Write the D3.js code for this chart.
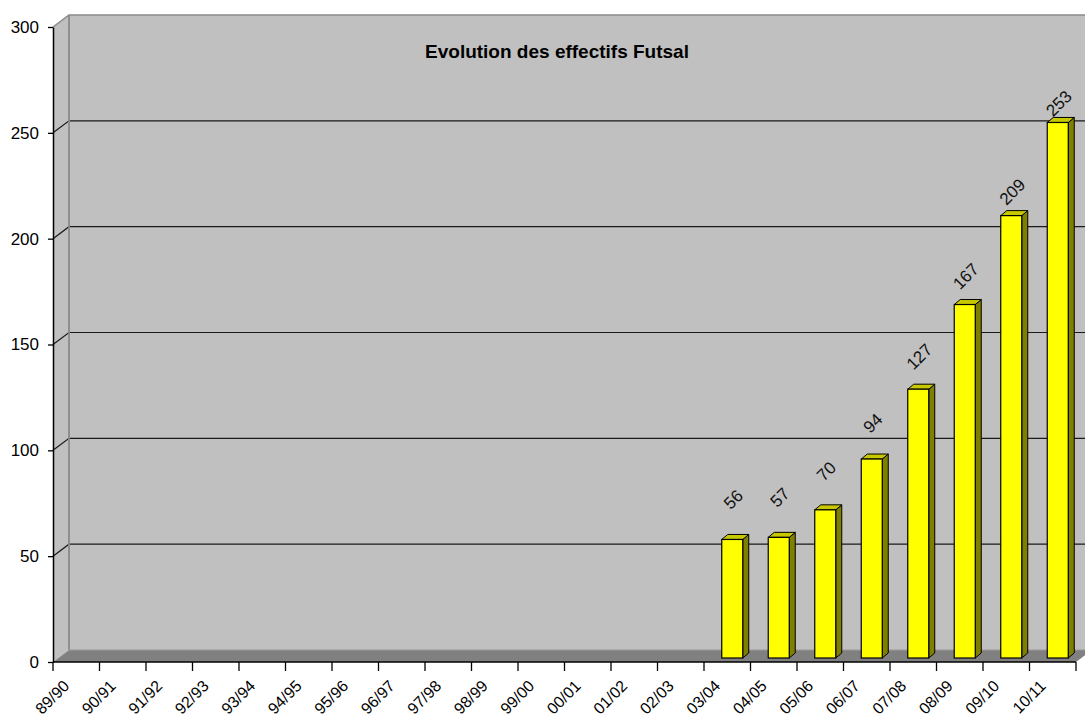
<!DOCTYPE html>
<html><head><meta charset="utf-8">
<script src="https://cdn.jsdelivr.net/npm/d3@7"></script>
<style>
body{margin:0;background:#fff;}
svg{display:block;font-family:"Liberation Sans",Arial,sans-serif;}
</style></head>
<body>
<svg id="chart" width="1085" height="722"></svg>
<script>
const title = "Evolution des effectifs Futsal";
const categories = ["89/90","90/91","91/92","92/93","93/94","94/95","95/96","96/97","97/98","98/99","99/00","00/01","01/02","02/03","03/04","04/05","05/06","06/07","07/08","08/09","09/10","10/11"];
const values = [null,null,null,null,null,null,null,null,null,null,null,null,null,null,56,57,70,94,127,167,209,253];
const yTicks = [0,50,100,150,200,250,300];

const W = 1085, H = 722;
const svg = d3.select("#chart");
const x = d3.scaleBand().domain(categories).range([53, 1076]);
const y = d3.scaleLinear().domain([0, 300]).range([662, 27]);
const DX = 16, DY = -12;          // depth of the 3D box
const bdx = 5, bdy = -4;          // bar position within depth
const sdx = 6, sdy = -5;          // bar thickness
const barW = 21;

const x0 = x.range()[0], x1 = x.range()[1];
const yTop = y(300), yBot = y(0);

// back wall
svg.append("rect").attr("x", x0 + DX).attr("y", yTop + DY)
  .attr("width", W - (x0 + DX) + 5).attr("height", yBot - yTop)
  .attr("fill", "#c0c0c0");
// side wall
svg.append("path")
  .attr("d", `M${x0},${yBot}L${x0},${yTop}L${x0+DX},${yTop+DY}L${x0+DX},${yBot+DY}Z`)
  .attr("fill", "#c0c0c0");

// gridlines
const gridVals = yTicks.filter(v => v > 0 && v < 300);
svg.append("g").selectAll("path").data(gridVals).join("path")
  .attr("d", v => `M${x0},${y(v)}L${x0+DX},${y(v)+DY}L${W+5},${y(v)+DY}`)
  .attr("fill", "none").attr("stroke", "#1a1a1a").attr("stroke-width", 1.2);

// wall borders
svg.append("path")
  .attr("d", `M${x0},${yTop}L${x0+DX},${yTop+DY}L${W+5},${yTop+DY}`)
  .attr("fill", "none").attr("stroke", "#8a8a8a").attr("stroke-width", 1.5);
svg.append("line").attr("x1", x0 + DX).attr("x2", x0 + DX)
  .attr("y1", yTop + DY).attr("y2", yBot + DY)
  .attr("stroke", "#8a8a8a").attr("stroke-width", 1.8);

// floor
svg.append("path")
  .attr("d", `M${x0},${yBot}L${x1},${yBot}L${x1+DX},${yBot+DY}L${x0+DX},${yBot+DY}Z`)
  .attr("fill", "#808080");
svg.append("line").attr("x1", x0 + DX).attr("x2", W + 5)
  .attr("y1", yBot + DY).attr("y2", yBot + DY)
  .attr("stroke", "#9a9a9a").attr("stroke-width", 1);

// bars
const data = categories.map((c, i) => ({c, v: values[i]})).filter(d => d.v != null);
const bars = svg.append("g");
data.forEach(d => {
  const xl = x(d.c) + x.bandwidth() / 2 - barW / 2 + bdx;
  const xr = xl + barW;
  const yb = y(0) + bdy;
  const yt = y(d.v) + bdy;
  // side
  bars.append("path")
    .attr("d", `M${xr},${yb}L${xr},${yt}L${xr+sdx},${yt+sdy}L${xr+sdx},${yb+sdy}Z`)
    .attr("fill", "#808000").attr("stroke", "#000").attr("stroke-width", 1).attr("stroke-linejoin", "round");
  // top
  bars.append("path")
    .attr("d", `M${xl},${yt}L${xr},${yt}L${xr+sdx},${yt+sdy}L${xl+sdx},${yt+sdy}Z`)
    .attr("fill", "#c8c800").attr("stroke", "#000").attr("stroke-width", 1).attr("stroke-linejoin", "round");
  // front
  bars.append("rect").attr("x", xl).attr("y", yt).attr("width", barW).attr("height", yb - yt)
    .attr("fill", "#ffff00").attr("stroke", "#000").attr("stroke-width", 1.2);
  // value label
  const lx = (xl + xr) / 2 + 1;
  const ly = y(d.v * 0.95) - 50;
  bars.append("text").attr("transform", `translate(${lx},${ly}) rotate(-45)`)
    .attr("text-anchor", "middle").attr("dy", "0.35em")
    .attr("font-size", 17).attr("fill", "#111").text(d.v);
});

// y axis
const yAxis = svg.append("g").attr("transform", `translate(${x0},0)`)
  .call(d3.axisLeft(y).tickValues(yTicks).tickSize(5).tickPadding(9).tickSizeOuter(0));
yAxis.select(".domain").attr("stroke", "#000").attr("stroke-width", 1.5);
yAxis.selectAll(".tick line").attr("stroke", "#000").attr("stroke-width", 1.3);
yAxis.selectAll(".tick text").attr("font-size", 17).attr("fill", "#000")
  .attr("font-family", "'Liberation Sans',Arial,sans-serif");

// x axis
svg.append("line").attr("x1", x0).attr("x2", x1).attr("y1", yBot).attr("y2", yBot)
  .attr("stroke", "#000").attr("stroke-width", 1.5);
const tickXs = categories.map(c => x(c)).concat([x1]);
svg.append("g").selectAll("line").data(tickXs).join("line")
  .attr("x1", d => d).attr("x2", d => d).attr("y1", yBot).attr("y2", yBot + 9)
  .attr("stroke", "#000").attr("stroke-width", 1.3);
svg.append("g").selectAll("text").data(categories).join("text")
  .attr("transform", c => `translate(${x(c) + x.bandwidth() / 2 - 6},${yBot + 25}) rotate(-45)`)
  .attr("text-anchor", "end").attr("font-size", 16).attr("fill", "#000").text(c => c);

// title
svg.append("text").attr("x", 557).attr("y", 58).attr("text-anchor", "middle")
  .attr("font-size", 19).attr("font-weight", "bold").attr("fill", "#000").text(title);
</script>
</body></html>
